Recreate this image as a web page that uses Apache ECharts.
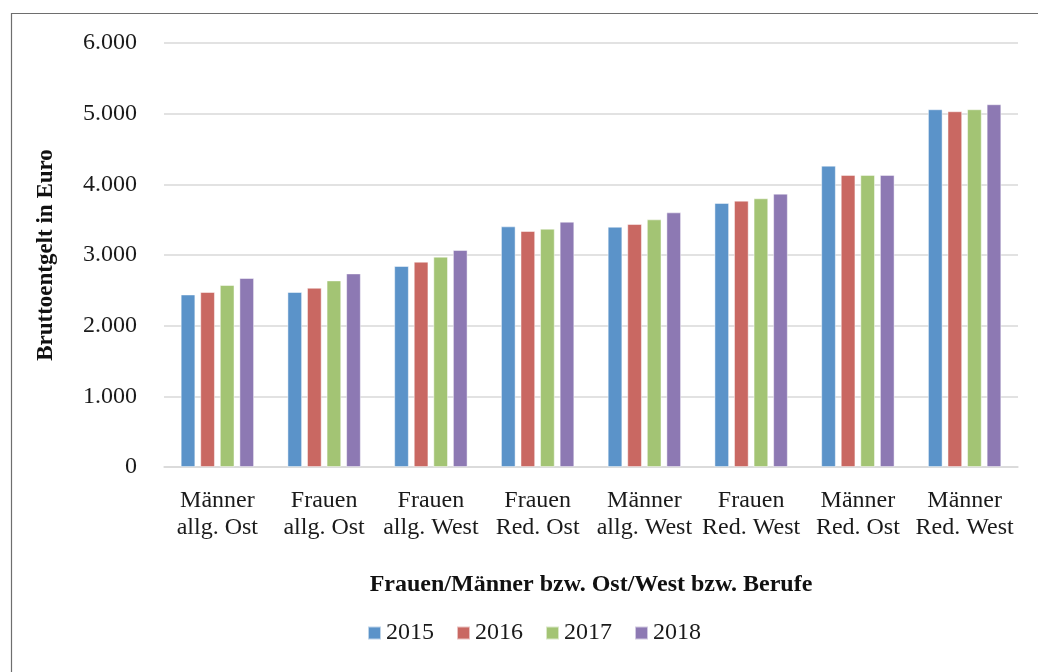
<!DOCTYPE html>
<html>
<head>
<meta charset="utf-8">
<script src="https://cdn.jsdelivr.net/npm/echarts@6/dist/echarts.min.js"></script>
<style>html,body{margin:0;padding:0;background:#fff;}#c{width:1038px;height:672px;}</style>
</head>
<body>
<div id="c"></div>
<script>
const categories = ['Männer\nallg. Ost','Frauen\nallg. Ost','Frauen\nallg. West','Frauen\nRed. Ost','Männer\nallg. West','Frauen\nRed. West','Männer\nRed. Ost','Männer\nRed. West'];
const years = ['2015','2016','2017','2018'];
const v2015 = [2440, 2475, 2843, 3404, 3399, 3735, 4263, 5061];
const v2016 = [2475, 2535, 2904, 3338, 3437, 3768, 4132, 5033];
const v2017 = [2574, 2639, 2975, 3371, 3503, 3801, 4132, 5061];
const v2018 = [2673, 2738, 3069, 3470, 3602, 3867, 4132, 5132];
const yTicks = [0, 1000, 2000, 3000, 4000, 5000, 6000];
const colors = ['#5B93C9', '#C96862', '#A3C474', '#8D79B3'];
const seriesData = [v2015, v2016, v2017, v2018];

const FONT = 'Liberation Serif';
const chart = echarts.init(document.getElementById('c'), null, {renderer: 'canvas'});
chart.setOption({
  animation: false,
  textStyle: {fontFamily: FONT},
  color: colors,
  graphic: [{
    type: 'rect', left: 9, top: 11, silent: true,
    shape: {x: 0, y: 0, width: 1100, height: 700},
    style: {fill: 'none', stroke: '#6e6e6e', lineWidth: 1.2}
  }],
  grid: {left: 164, right: 20, top: 43, bottom: 205},
  legend: {
    bottom: 22, left: 362,
    itemWidth: 13, itemHeight: 13, itemGap: 22,
    icon: 'rect',
    textStyle: {fontFamily: FONT, fontSize: 24, color: '#1a1a1a'},
    data: years
  },
  xAxis: {
    type: 'category',
    data: categories,
    name: 'Frauen/Männer bzw. Ost/West bzw. Berufe',
    nameLocation: 'middle',
    nameGap: 106,
    nameTextStyle: {fontFamily: FONT, fontSize: 24, fontWeight: 'bold', color: '#111'},
    axisLine: {lineStyle: {color: '#d9d9d9', width: 1.5}},
    axisTick: {show: false},
    axisLabel: {fontFamily: FONT, fontSize: 24, color: '#1a1a1a', lineHeight: 27, margin: 20, interval: 0}
  },
  yAxis: {
    type: 'value',
    min: yTicks[0], max: yTicks[yTicks.length - 1], interval: 1000,
    name: 'Bruttoentgelt in Euro',
    nameLocation: 'middle',
    nameGap: 106,
    nameTextStyle: {fontFamily: FONT, fontSize: 23, fontWeight: 'bold', color: '#111'},
    axisLine: {show: false},
    axisTick: {show: false},
    splitLine: {lineStyle: {color: '#d9d9d9', width: 1.5}},
    axisLabel: {
      fontFamily: FONT, fontSize: 24, color: '#1a1a1a', margin: 27,
      formatter: v => v === 0 ? '0' : String(v).replace(/(\d)(?=(\d{3})+$)/g, '$1.')
    }
  },
  series: years.map((y, i) => ({
    name: y,
    type: 'bar',
    data: seriesData[i],
    barWidth: 14.5,
    barGap: '35%',
    itemStyle: {color: colors[i], borderColor: 'rgba(255,255,255,0.6)', borderWidth: 0.8}
  }))
});
</script>
</body>
</html>
